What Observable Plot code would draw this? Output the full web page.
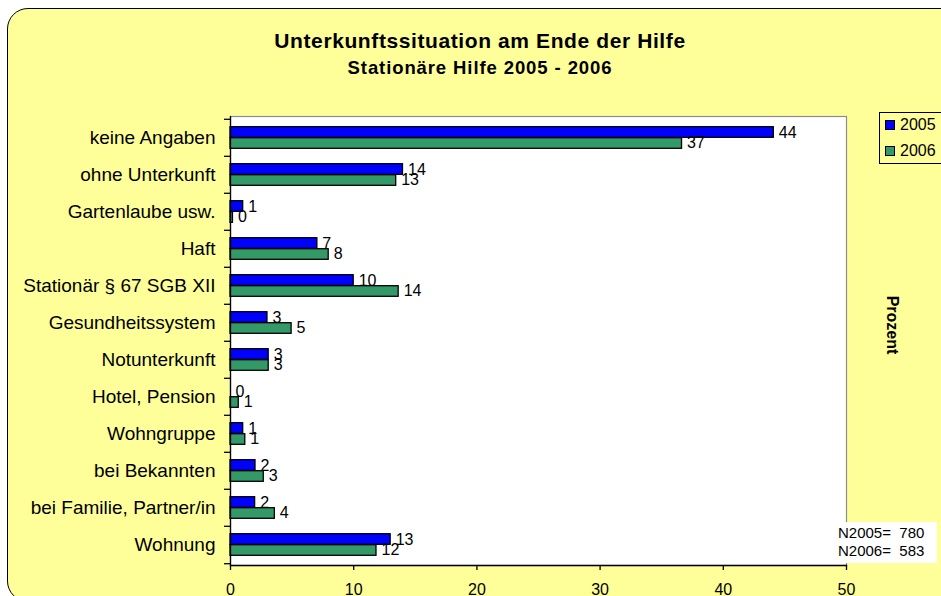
<!DOCTYPE html>
<html><head><meta charset="utf-8">
<script src="https://cdn.jsdelivr.net/npm/d3@7"></script>
<script src="https://cdn.jsdelivr.net/npm/@observablehq/plot@0.6"></script>
<style>
body{margin:0;background:#fff;font-family:"Liberation Sans",Arial,sans-serif;}
#wrap{position:relative;width:941px;height:596px;overflow:hidden;}
#bg{position:absolute;left:7px;top:8px;width:990px;height:594px;background:#FFFF99;border:1.5px solid #000;border-radius:21px;box-sizing:border-box;}
#chart{position:absolute;left:0;top:0;}
.title{position:absolute;left:0;width:960px;text-align:center;font-weight:bold;white-space:nowrap;}
#t1{top:30px;font-size:21px;line-height:21px;letter-spacing:0.6px;}
#t2{top:59px;font-size:18.5px;line-height:18.5px;letter-spacing:0.9px;}
#legend{position:absolute;left:879px;top:112px;width:80px;height:52px;border:1px solid #000;box-sizing:border-box;background:#FFFF99;}
.li{position:absolute;left:5px;height:16px;font-size:16px;line-height:16px;}
.sw{display:inline-block;width:8px;height:8px;border:1px solid #000;margin-right:5px;vertical-align:0px;}
#prozent{position:absolute;left:862px;top:316px;width:60px;text-align:center;font-weight:bold;font-size:16px;line-height:18px;transform:rotate(90deg);}
#nbox{position:absolute;left:808px;top:522px;width:129px;height:41px;background:#fff;}
.nl{position:absolute;left:30px;font-size:15px;line-height:16px;white-space:pre;}
</style></head>
<body>
<div id="wrap">
  <div id="bg"></div>
  <div id="chart"></div>
  <div class="title" id="t1">Unterkunftssituation am Ende der Hilfe</div>
  <div class="title" id="t2">Stationäre Hilfe 2005 - 2006</div>
  <div id="legend"></div>
  <div id="prozent">Prozent</div>
  <div id="nbox"></div>
</div>
<script>
const categories = ["keine Angaben","ohne Unterkunft","Gartenlaube usw.","Haft","Stationär § 67 SGB XII","Gesundheitssystem","Notunterkunft","Hotel, Pension","Wohngruppe","bei Bekannten","bei Familie, Partner/in","Wohnung"];
const values2005 = [44.1,14.0,1.03,7.05,10.0,3.0,3.1,0,1.03,2.03,2.0,13.0];
const values2006 = [36.65,13.45,0.2,7.97,13.65,4.96,3.1,0.67,1.2,2.7,3.6,11.85];
const labels2005 = ["44","14","1","7","10","3","3","0","1","2","2","13"];
const labels2006 = ["37","13","0","8","14","5","3","1","1","3","4","12"];
const years = ["2005","2006"];
const colors = ["#0000FF","#339966"];
const xTicks = [0,10,20,30,40,50];
const nLines = ["N2005=  780","N2006=  583"];

const rows2005 = categories.map((c,i)=>({cat:c, year:years[0], value:values2005[i], label:labels2005[i]}));
const rows2006 = categories.map((c,i)=>({cat:c, year:years[1], value:values2006[i], label:labels2006[i]}));

const W = 941, H = 596, mT = 116, mB = 31, mL = 230, mR = 95;
const step = (H - mT - mB) / categories.length;
const half = step / 2, barH = 11;

const chart = Plot.plot({
  width: W, height: H,
  marginLeft: mL, marginRight: mR, marginTop: mT, marginBottom: mB,
  style: {background: "transparent", color: "black", fontFamily: "'Liberation Sans', Arial, sans-serif", overflow: "visible"},
  x: {domain: [0, 50], label: null},
  y: {domain: categories, padding: 0, label: null},
  color: {domain: years, range: colors},
  marks: [
    Plot.frame({fill: "white", stroke: "#8c8c8c", strokeWidth: 1.2}),
    Plot.barX(rows2005, {x: "value", y: "cat", fill: "year", stroke: "black", strokeWidth: 1.3, insetTop: half - barH, insetBottom: half}),
    Plot.barX(rows2006, {x: "value", y: "cat", fill: "year", stroke: "black", strokeWidth: 1.3, insetTop: half, insetBottom: half - barH}),
    Plot.text(rows2005, {x: "value", y: "cat", text: "label", dx: 5, dy: -5, textAnchor: "start", fontSize: 16, fill: "black"}),
    Plot.text(rows2006, {x: "value", y: "cat", text: "label", dx: 5, dy: 5, textAnchor: "start", fontSize: 16, fill: "black"}),
    Plot.ruleX([0], {stroke: "black", strokeWidth: 1.3}),
    Plot.frame({anchor: "bottom", stroke: "black", strokeWidth: 1.3}),
    Plot.axisX({ticks: xTicks, tickSize: 5, tickPadding: 13, fontSize: 16, tickFormat: d => String(d), strokeWidth: 1.3, label: null}),
    Plot.axisY({tickSize: 0, tickPadding: 15, fontSize: 19, label: null}),
    Plot.axisY({tickSize: 6, tickFormat: () => "", dy: -half, strokeWidth: 1.3, label: null}),
    Plot.axisY([categories[categories.length - 1]], {tickSize: 6, tickFormat: () => "", dy: half, strokeWidth: 1.3, label: null})
  ]
});
document.getElementById("chart").appendChild(chart);

const legend = document.getElementById("legend");
years.forEach((y, i) => {
  const d = document.createElement("div");
  d.className = "li";
  d.style.top = (4 + i * 26) + "px";
  d.innerHTML = `<span class="sw" style="background:${colors[i]}"></span>${y}`;
  legend.appendChild(d);
});
const nbox = document.getElementById("nbox");
nLines.forEach((t, i) => {
  const d = document.createElement("div");
  d.className = "nl";
  d.style.top = (3 + i * 18) + "px";
  d.textContent = t;
  nbox.appendChild(d);
});
</script>
</body></html>
